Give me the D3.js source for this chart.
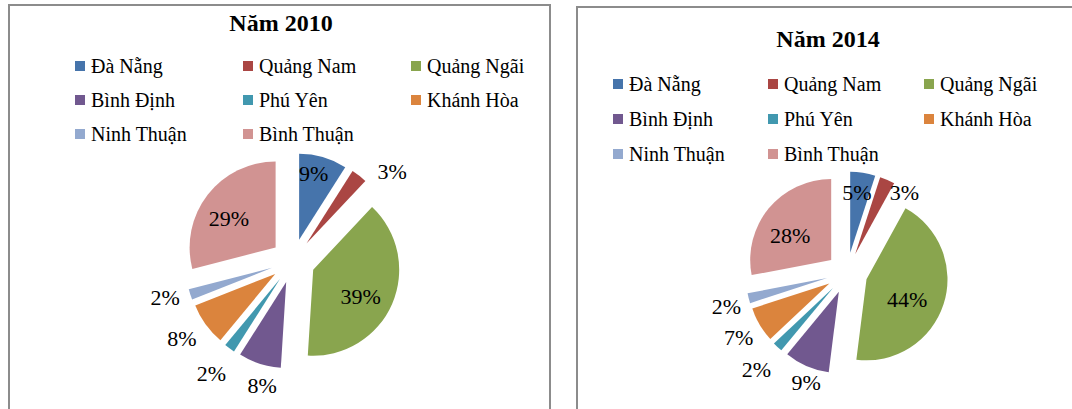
<!DOCTYPE html>
<html>
<head>
<meta charset="utf-8">
<script src="https://cdn.jsdelivr.net/npm/d3@7"></script>
<style>
  body { margin: 0; background: #fff; }
</style>
</head>
<body>
<div class="charts"></div>
<script>
// Dữ liệu
const provinces = ["Đà Nẵng", "Quảng Nam", "Quảng Ngãi", "Bình Định", "Phú Yên", "Khánh Hòa", "Ninh Thuận", "Bình Thuận"];
const share2010 = [9, 3, 39, 8, 2, 8, 2, 29];
const share2014 = [5, 3, 44, 9, 2, 7, 2, 28];
const colors = ["#4674AB", "#AA4643", "#89A54E", "#71588F", "#4198AF", "#DB843D", "#93A9CF", "#D19392"];

const W = 1072, H = 409;
const FONT = "'Liberation Serif', 'Times New Roman', serif";

const svg = d3.select("div.charts").append("svg")
  .attr("width", W)
  .attr("height", H)
  .attr("font-family", FONT);

// cấu hình bố cục cho từng biểu đồ
const panels = [
  {
    title: "Năm 2010", values: share2010,
    box: {x: 9, y: 5, w: 541, h: 430},
    titleX: 281, titleY: 31,
    legendX: [75, 243, 411], legendY: [66, 100, 134],
    cx: 293, cy: 261, r: 86, explode: 22,
    labelK: [0.79, 1.3, 0.63, 1.23, 1.36, 1.32, 1.29, 0.64],
    labelShift: [-3, 10, 4, -4, 0, 1, 2, -4]
  },
  {
    title: "Năm 2014", values: share2014,
    box: {x: 577, y: 7, w: 520, h: 430},
    titleX: 828, titleY: 47,
    legendX: [613, 768, 924], legendY: [84, 119, 154],
    cx: 847, cy: 273, r: 81, explode: 20.5,
    labelK: [0.75, 0.97, 0.56, 1.19, 1.38, 1.3, 1.29, 0.59],
    labelShift: [-2, 12, 6, -3, 0, 0, -1, -6]
  }
];

const color = d3.scaleOrdinal().domain(provinces).range(colors);

panels.forEach(function(p) {
  const g = svg.append("g");

  // khung
  g.append("rect")
    .attr("x", p.box.x)
    .attr("y", p.box.y)
    .attr("width", p.box.w)
    .attr("height", p.box.h)
    .attr("fill", "#fff")
    .attr("stroke", "#8c8c8c")
    .attr("stroke-width", 2);

  // tiêu đề
  g.append("text")
    .attr("x", p.titleX)
    .attr("y", p.titleY)
    .attr("text-anchor", "middle")
    .attr("font-size", 24)
    .attr("font-weight", "bold")
    .text(p.title);

  // chú giải
  const leg = g.selectAll("g.legend")
    .data(provinces)
    .enter()
    .append("g")
    .attr("class", "legend")
    .attr("transform", (d, i) => `translate(${p.legendX[i % 3]},${p.legendY[Math.floor(i / 3)]})`);

  leg.append("rect")
    .attr("x", 0)
    .attr("y", -5)
    .attr("width", 10)
    .attr("height", 10)
    .attr("fill", d => color(d));

  leg.append("text")
    .attr("x", 16)
    .attr("y", 0)
    .attr("dy", "0.35em")
    .attr("font-size", 20)
    .text(d => d);

  // biểu đồ tròn tách rời
  const pie = d3.pie().sort(null).value(d => d);
  const arcs = pie(p.values);
  const arc = d3.arc().innerRadius(0).outerRadius(p.r);

  const pieG = g.append("g")
    .attr("transform", `translate(${p.cx},${p.cy})`);

  pieG.selectAll("path")
    .data(arcs)
    .enter()
    .append("path")
    .attr("d", arc)
    .attr("fill", (d, i) => colors[i])
    .attr("transform", d => {
      const a = (d.startAngle + d.endAngle) / 2;
      return `translate(${p.explode * Math.sin(a)},${-p.explode * Math.cos(a)})`;
    });

  pieG.selectAll("text")
    .data(arcs)
    .enter()
    .append("text")
    .attr("transform", (d, i) => {
      const a = (d.startAngle + d.endAngle) / 2 + p.labelShift[i] * Math.PI / 180;
      const dist = p.explode + p.labelK[i] * p.r;
      return `translate(${dist * Math.sin(a)},${-dist * Math.cos(a)})`;
    })
    .attr("text-anchor", "middle")
    .attr("dy", "0.35em")
    .attr("font-size", 22)
    .text(d => d.value + "%");
});
</script>
</body>
</html>
